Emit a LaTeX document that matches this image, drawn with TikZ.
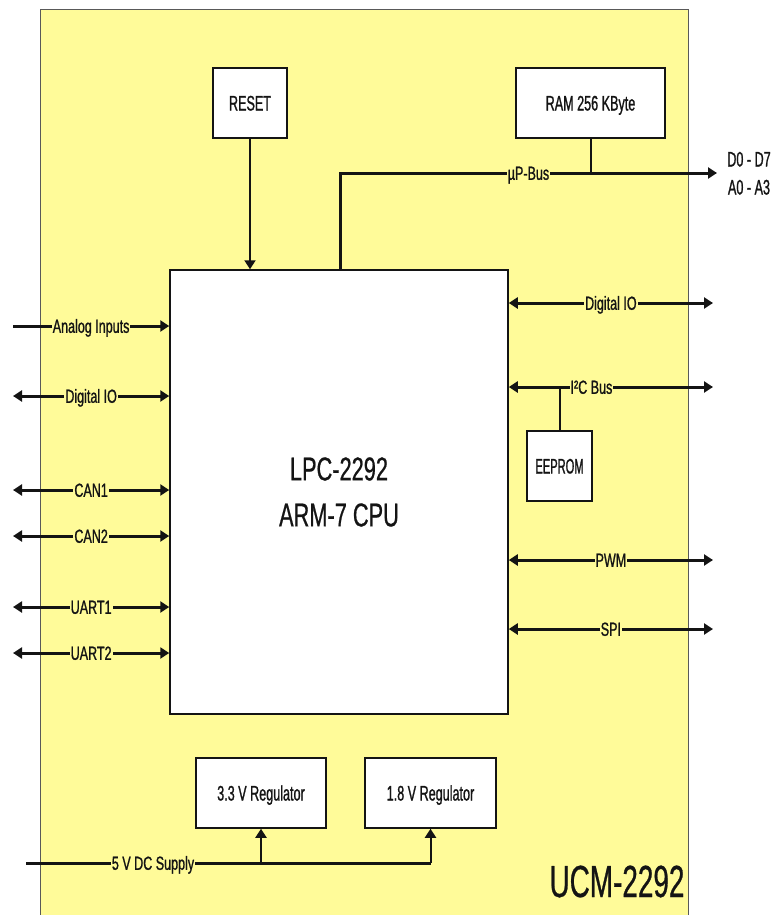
\documentclass[tikz,border=0pt]{standalone}
\usepackage{fontspec}
\setmainfont{Liberation Sans}[FakeStretch=0.62]
\newfontfamily\boxfont{Liberation Sans}[FakeStretch=0.6,FakeBold=1]
\newfontfamily\eepfont{Liberation Sans}[FakeStretch=0.53,FakeBold=1]
\newfontfamily\lblfont{Liberation Sans}[FakeStretch=0.66,FakeBold=1]
\newfontfamily\cpufont{Liberation Sans}[FakeStretch=0.66,FakeBold=0.6]
\newfontfamily\titlefont{Liberation Sans}[FakeStretch=0.62,FakeBold=0.6]
\usetikzlibrary{arrows.meta,shadows}
\definecolor{board}{RGB}{255,251,153}
\definecolor{ink}{RGB}{20,20,20}
\begin{document}
\begin{tikzpicture}[x=1pt,y=-1pt,
  blk/.style={draw=ink,line width=1.5pt,fill=white,inner sep=0pt,
    text height=15pt,text depth=0pt,text=ink,
    font=\boxfont\fontsize{21}{25}\selectfont,
    drop shadow={shadow xshift=0.8pt,shadow yshift=-1.2pt,fill=black!45,opacity=0.8}},
  lbl/.style={fill=board,inner xsep=1pt,inner ysep=0pt,text height=13.6pt,text depth=0pt,text=ink,
    font=\lblfont\fontsize{19}{22}\selectfont},
  bus/.style={line width=3pt,draw=ink},
  thin/.style={line width=2pt,draw=ink},
  tip/.style={-{Triangle[length=9pt,width=11pt]}},
  dtip/.style={{Triangle[length=9pt,width=11pt]}-{Triangle[length=9pt,width=11pt]}},
  plain/.style={inner sep=0pt,text height=15pt,text depth=0pt,text=ink,font=\boxfont\fontsize{21}{25}\selectfont}
]
\useasboundingbox (0,0) rectangle (782,915);
% board
\fill[board] (40,10) rectangle (688,925);
\draw[black!65,line width=1pt] (40,925) -- (40,10) -- (688,10) -- (688,925);

% blocks
\node[blk,minimum width=74pt,minimum height=70pt] (reset) at (250,103) {RESET};
\node[blk,minimum width=149pt,minimum height=70pt] (ram) at (590.5,103) {RAM 256 KByte};
\node[blk,minimum width=338pt,minimum height=444pt,align=center,
      text height=,text depth=,font=\cpufont\fontsize{33}{46}\selectfont] (cpu) at (339,492) {LPC-2292\\ARM-7 CPU};
\node[blk,minimum width=65pt,minimum height=70pt,font=\eepfont\fontsize{21}{25}\selectfont] (eeprom) at (559.5,466) {EEPROM};
\node[blk,minimum width=130pt,minimum height=70pt] (reg33) at (261,793) {3.3 V Regulator};
\node[blk,minimum width=131pt,minimum height=70pt] (reg18) at (430.5,793) {1.8 V Regulator};

% reset
\draw[thin,tip] (reset.south) -- (reset.south |- cpu.north);

% uP bus
\coordinate (busjoin) at (340,173);
\coordinate (busend) at (717,173);
\draw[bus,tip] (busjoin |- cpu.north) -- (busjoin) -- node[lbl] (buslbl) {µP-Bus} (busend);
\draw[thin] (ram.south) -- (ram.south |- busend);
\node[plain] (d07) at (749,159) {D0 - D7};
\node[plain] (a03) at (749,187) {A0 - A3};

% left side
\coordinate (L1) at (13,326);
\coordinate (L2) at (13,396);
\coordinate (L3) at (13,490);
\coordinate (L4) at (13,536);
\coordinate (L5) at (13,607);
\coordinate (L6) at (13,653);
\draw[bus,tip]  (L1) -- node[lbl] (ll1) {Analog Inputs} (L1 -| cpu.west);
\draw[bus,dtip] (L2) -- node[lbl] (ll2) {Digital IO} (L2 -| cpu.west);
\draw[bus,dtip] (L3) -- node[lbl] (ll3) {CAN1} (L3 -| cpu.west);
\draw[bus,dtip] (L4) -- node[lbl] (ll4) {CAN2} (L4 -| cpu.west);
\draw[bus,dtip] (L5) -- node[lbl] (ll5) {UART1} (L5 -| cpu.west);
\draw[bus,dtip] (L6) -- node[lbl] (ll6) {UART2} (L6 -| cpu.west);

% right side
\coordinate (R1) at (713,303);
\coordinate (R2) at (713,387);
\coordinate (R3) at (713,560);
\coordinate (R4) at (713,629);
\draw[bus,dtip] (R1 -| cpu.east) -- node[lbl] (rl1) {Digital IO} (R1);
\draw[bus,dtip] (R2 -| cpu.east) -- node[lbl,pos=0.405] (rl2) {I²C Bus} (R2);
\draw[bus,dtip] (R3 -| cpu.east) -- node[lbl] (rl3) {PWM} (R3);
\draw[bus,dtip] (R4 -| cpu.east) -- node[lbl] (rl4) {SPI} (R4);
\draw[thin] (eeprom.north) -- (eeprom.north |- R2);

% supply
\coordinate (P) at (26,863);
\draw[bus] (P) -- node[lbl,pos=0.314] (plbl) {5 V DC Supply} (P -| reg18.south);
\draw[thin,tip] (P -| reg33.south) -- (reg33.south);
\draw[thin,tip] (P -| reg18.south) -- (reg18.south);

% title
\node[inner sep=0pt,text height=32pt,text depth=0pt,font=\titlefont\fontsize{45}{50}\selectfont,text=ink] (ucm) at (617,881) {UCM-2292};
\end{tikzpicture}
\end{document}
